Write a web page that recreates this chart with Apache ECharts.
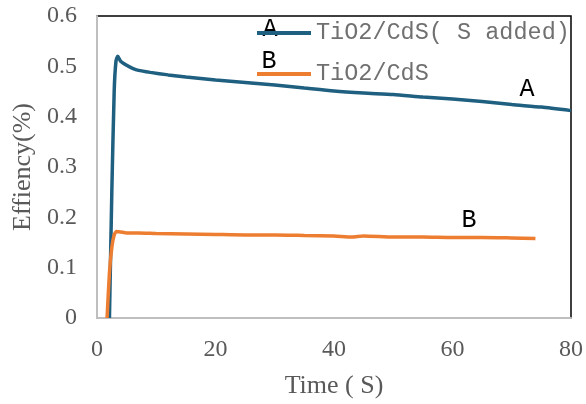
<!DOCTYPE html>
<html>
<head>
<meta charset="utf-8">
<script src="https://cdn.jsdelivr.net/npm/echarts@6/dist/echarts.min.js"></script>
<style>
  html, body { margin: 0; padding: 0; background: #fff; }
  #chart { width: 586px; height: 404px; }
</style>
</head>
<body>
<div id="chart"></div>
<script>
// time (s) and efficiency (%)
var timeA = [2.1, 2.5, 2.9, 3.2, 3.5, 4, 5, 6, 7, 9, 12, 15, 20, 25, 30, 35, 40, 45, 50, 55, 60, 65, 70, 75, 80];
var effA  = [0, 0.25, 0.45, 0.51, 0.52, 0.51, 0.502, 0.496, 0.492, 0.488, 0.483, 0.479, 0.473, 0.468, 0.463, 0.457, 0.451, 0.447, 0.444, 0.439, 0.435, 0.43, 0.424, 0.419, 0.412];

var timeB = [1.7, 2.1, 2.5, 2.9, 3.3, 4, 5, 7, 10, 15, 20, 25, 30, 35, 40, 43, 45, 50, 55, 60, 65, 70, 74];
var effB  = [0, 0.09, 0.14, 0.165, 0.172, 0.171, 0.169, 0.169, 0.168, 0.167, 0.166, 0.165, 0.165, 0.164, 0.163, 0.161, 0.163, 0.161, 0.161, 0.16, 0.16, 0.159, 0.158];

var seriesNames = ['TiO2/CdS( S added)', 'TiO2/CdS'];
var xTicks = { min: 0, max: 80, step: 20 };
var yTicks = { min: 0, max: 0.6, step: 0.1 };

function pairs(t, v) {
  var out = [];
  for (var i = 0; i < t.length; i++) out.push([t[i], v[i]]);
  return out;
}

// letter tags like the text boxes in the original sheet
function tag(txt, x, y) {
  return {
    type: 'text', x: x, y: y,
    style: { text: txt, align: 'center', verticalAlign: 'middle',
             fontFamily: 'Liberation Mono', fontSize: 25, fill: '#000' }
  };
}

var chart = echarts.init(document.getElementById('chart'));

var option = {
  animation: false,
  grid: {
    left: 97, right: 8, top: 16, bottom: 82,
    show: true, borderColor: '#000', borderWidth: 1.5
  },
  legend: {
    orient: 'vertical',
    left: 252, top: 16,
    icon: 'rect',
    itemWidth: 54, itemHeight: 4, itemGap: 17,
    textStyle: { fontFamily: 'Liberation Mono', fontSize: 23.5, color: '#707070' },
    data: seriesNames
  },
  xAxis: {
    type: 'value',
    min: xTicks.min, max: xTicks.max, interval: xTicks.step,
    name: 'Time ( S)',
    nameLocation: 'middle', nameGap: 55,
    nameTextStyle: { fontFamily: 'Liberation Serif', fontSize: 26, color: '#595959' },
    axisLine: { lineStyle: { color: '#bfbfbf', width: 2 } },
    axisTick: { show: false },
    splitLine: { show: false },
    axisLabel: { fontFamily: 'Liberation Serif', fontSize: 24, color: '#595959', margin: 20 }
  },
  yAxis: {
    type: 'value',
    min: yTicks.min, max: yTicks.max, interval: yTicks.step,
    name: 'Effiency(%)',
    nameLocation: 'middle', nameGap: 55,
    nameTextStyle: { fontFamily: 'Liberation Serif', fontSize: 26, color: '#595959' },
    axisLine: { show: true, lineStyle: { color: '#bfbfbf', width: 2 } },
    axisTick: { show: false },
    splitLine: { show: false },
    axisLabel: { fontFamily: 'Liberation Serif', fontSize: 24, color: '#595959', margin: 20 }
  },
  series: [
    {
      name: seriesNames[0],
      type: 'line',
      data: pairs(timeA, effA),
      showSymbol: false, symbol: 'none',
      smooth: 0.2,
      lineStyle: { color: '#1f5f80', width: 3.5 },
      itemStyle: { color: '#1f5f80' }
    },
    {
      name: seriesNames[1],
      type: 'line',
      data: pairs(timeB, effB),
      showSymbol: false, symbol: 'none',
      smooth: 0.2,
      lineStyle: { color: '#ed7d31', width: 3.5 },
      itemStyle: { color: '#ed7d31' }
    }
  ],
  graphic: [
    tag('A', 270, 29),
    tag('B', 269, 61),
    tag('A', 527, 89),
    tag('B', 469, 220)
  ]
};

chart.setOption(option);
</script>
</body>
</html>
